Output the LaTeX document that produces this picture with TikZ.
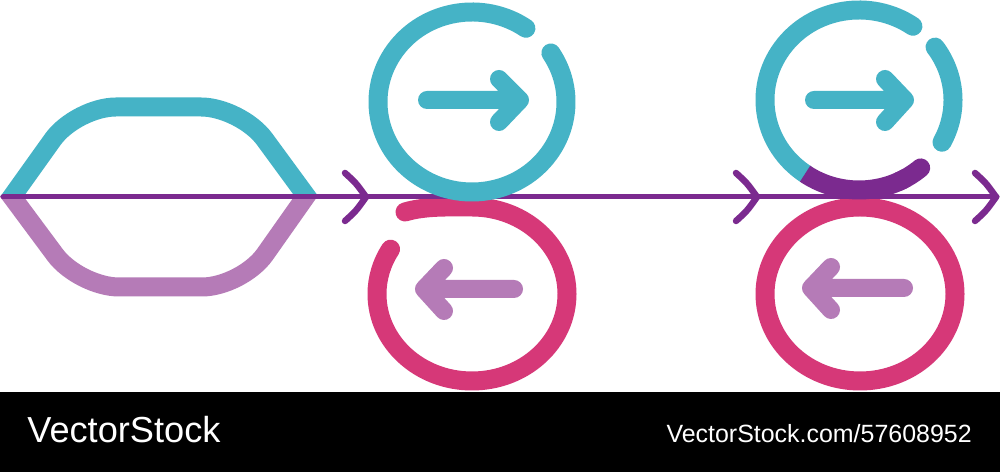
\documentclass[tikz,border=0pt]{standalone}
\usepackage{fontspec}
\setmainfont{Liberation Sans}
\usepackage{tikz}
\usetikzlibrary{calc}

\definecolor{ringteal}{RGB}{69,179,198}
\definecolor{ringpink}{RGB}{214,56,120}
\definecolor{softviolet}{RGB}{181,123,183}
\definecolor{deepviolet}{RGB}{123,42,143}

\tikzset{
  ring/.style={line width=0.38cm,line cap=round},
  pointer/.style={line width=0.36cm,line cap=round,line join=round},
  axis/.style={deepviolet,line width=0.1cm,line cap=round},
  chevron/.style={deepviolet,line width=0.13cm,line cap=round,line join=round},
  stamp/.style={text=white,inner sep=0pt}
}

\begin{document}
\begin{tikzpicture}[x=0.02cm,y=0.02cm]
\useasboundingbox (0,0) rectangle (1000,472);
\fill[white] (0,80) rectangle (1000,472);
\fill[black] (0,0) rectangle (1000,80);
% centres of the rings
\coordinate (mt) at (472,370);
\coordinate (mp) at (472,178);
\coordinate (rt) at (859,372);
\coordinate (rp) at (860,178);
\coordinate (axisstart) at (3,275);
\coordinate (axisend) at (997,275);
% hexagon, upper and lower half
\begin{scope}
\clip (0,275) rectangle (1000,472);
\draw[ring,ringteal,line cap=butt,rounded corners=0.8cm] (1,260) -- (76,365) -- (241,365) -- (318,260);
\end{scope}
\begin{scope}
\clip (0,80) rectangle (1000,275);
\draw[ring,softviolet,line cap=butt,rounded corners=0.8cm] (1,290) -- (79,185) -- (242,185) -- (316,290);
\end{scope}
% lower rings
\draw[ring,ringpink] (405,260) .. controls (425,266) and (448,265) .. (472,265) arc[start angle=90,end angle=-211,x radius=95,y radius=87];
\draw[ring,ringpink] (rp) ellipse[x radius=95,y radius=87];
% axis
\draw[axis] (axisstart) -- (axisend);
% upper rings
\draw[ring,ringteal] ([shift={(55:94 and 90)}]mt) arc[start angle=55,end angle=393,x radius=94,y radius=90];
\draw[ring,ringteal] ([shift={(55:94 and 90)}]rt) arc[start angle=55,end angle=235,x radius=94,y radius=90];
\draw[ring,ringteal] ([shift={(-28:94 and 90)}]rt) arc[start angle=-28,end angle=36,x radius=94,y radius=90];
\draw[ring,deepviolet,line cap=butt] ([shift={(235:94 and 90)}]rt) arc[start angle=235,end angle=300,x radius=94,y radius=90];
\draw[ring,deepviolet] ([shift={(295:94 and 90)}]rt) arc[start angle=295,end angle=311,x radius=94,y radius=90];
% arrow tips on the axis
\draw[chevron] (345,299) .. controls (356,289) .. (366,275) .. controls (356,261) .. (345,251);
\draw[chevron] (736,299) .. controls (747,289) .. (757,275) .. controls (747,261) .. (736,251);
\draw[chevron] (975,299) .. controls (986,289) .. (996,275) .. controls (986,261) .. (975,251);
% arrows inside the rings
\draw[pointer,ringteal] (427,372) -- (520,372) (499,393) -- (520,372) -- (499,350);
\draw[pointer,ringteal] (814,372) -- (905,372) (885,393) -- (905,372) -- (885,350);
\draw[pointer,softviolet] (514,183) -- (424,183) (444,204) -- (424,183) -- (444,161);
\draw[pointer,softviolet] (904,184) -- (811,184) (831,205) -- (811,184) -- (831,162);
% footer
\node[stamp,anchor=base west,font=\fontsize{20.6}{24}\selectfont] (brand) at (27,29) {VectorStock};
\node[stamp,anchor=base east,font=\fontsize{14.2}{17}\selectfont] (stockid) at (972,29) {VectorStock.com/57608952};
\end{tikzpicture}
\end{document}
